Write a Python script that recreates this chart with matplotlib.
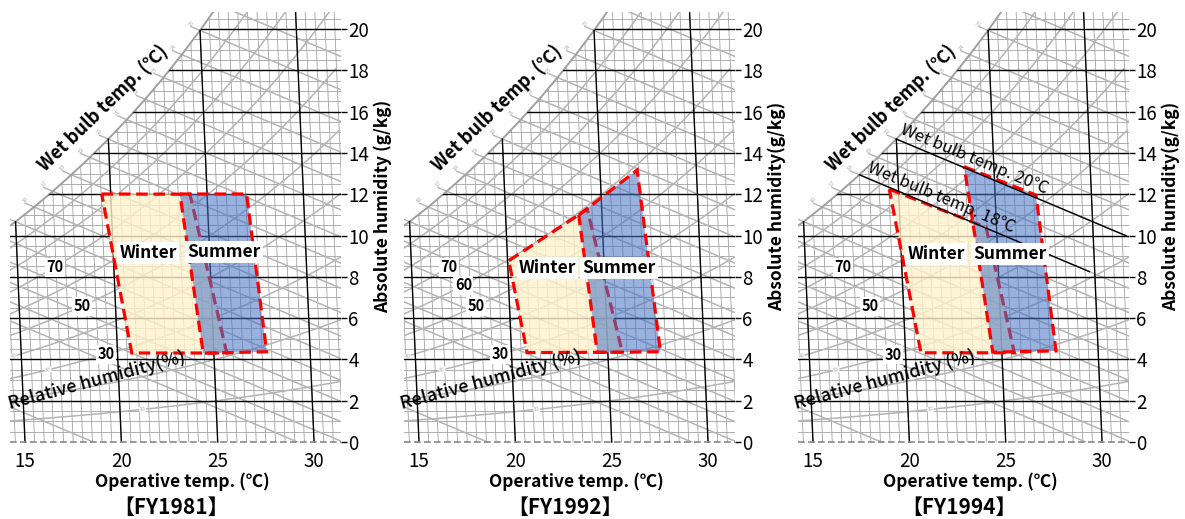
import numpy as np
import matplotlib
matplotlib.use("Agg")
import matplotlib.pyplot as plt
from matplotlib.patches import Polygon

plt.rcParams['font.family'] = ['Noto Sans CJK JP', 'DejaVu Sans']

W, H = 1185, 519

# saturation absolute humidity (g/kg) against dry bulb temp (degC)
sat_temp = list(range(0, 33))
sat_hum = [3.77, 4.06, 4.37, 4.70, 5.05, 5.42, 5.82, 6.24, 6.69, 7.16,
           7.66, 8.20, 8.76, 9.36, 10.00, 10.67, 11.38, 12.14, 12.94, 13.78,
           14.67, 15.61, 16.60, 17.65, 18.76, 19.93, 21.17, 22.47, 23.85, 25.31,
           26.85, 28.47, 30.19]
rh_levels = [10, 20, 30, 40, 50, 60, 70, 80, 90]
wb_temps = [5, 10, 11, 12, 13, 14, 15, 16, 17, 18, 19, 20, 21, 22, 23, 24, 25, 26]
wb_tiny_labels = list(range(15, 26))
x_ticks = [15, 20, 25, 30]
y_ticks = [0, 2, 4, 6, 8, 10, 12, 14, 16, 18, 20]

SKEW = 0.046      # dry bulb lines lean left going up
WB_SLOPE = 0.40   # g/kg per degC along a wet bulb line

years = ["FY1981", "FY1992", "FY1994"]
winter_x = [[18.98, 23.56, 25.47, 20.54],
            [19.66, 23.73, 25.55, 20.61],
            [18.96, 23.98, 25.45, 20.60]]
winter_y = [[12.01, 12.00, 4.31, 4.31],
            [8.78, 11.27, 4.35, 4.33],
            [12.24, 10.40, 4.32, 4.32]]
summer_x = [[23.04, 26.50, 27.54, 24.25],
            [23.29, 26.32, 27.53, 24.25],
            [22.85, 26.57, 27.61, 24.33]]
summer_y = [[12.01, 12.01, 4.37, 4.30],
            [10.99, 13.17, 4.37, 4.34],
            [13.33, 11.96, 4.41, 4.35]]

# bold RH labels (value, dry bulb position) per panel
rh_marks = [[(70, 16.56), (50, 17.96), (30, 19.20)],
            [(70, 16.56), (60, 17.30), (50, 17.96), (30, 19.20)],
            [(70, 16.56), (50, 17.96), (30, 19.15)]]
rh_tiny = [(40, 14.40), (30, 16.20), (10, 21.10)]

# FY1994 wet bulb reference lines
wb_ref_temps = [18, 20]
wb_ref_end = [29.34, 31.24]

abs_labels = ["Absolute humidity (g/kg)", "Absolute humidity(g/kg)", "Absolute humidity(g/kg)"]
rel_labels = ["Relative humidity(%)", "Relative humidity (%)", "Relative humidity (%)"]

offsets = [0, 394, 788]
XL, XR, YB, YT = 14.22, 31.42, -0.08, 20.82
PXX, PXY = 19.27, 20.65

sat_t = np.array(sat_temp, float)
sat_w = np.array(sat_hum)
sat_x = sat_t - SKEW * sat_w

GRID = '#a2a2a2'
CURVE = '#b4b4b4'

fig = plt.figure(figsize=(W / 100, H / 100), dpi=100)


def ftext(px, py, s, **kw):
    fig.text(px / W, 1 - py / H, s, **kw)


for i, off in enumerate(offsets):
    x0 = off + 25
    left = x0 + PXX * (XL - 15)
    bottom = 442 - PXY * YB
    ax = fig.add_axes([left / W, 1 - bottom / H,
                       PXX * (XR - XL) / W, PXY * (YT - YB) / H])
    ax.set_xlim(XL, XR)
    ax.set_ylim(YB, YT)
    for sp in ax.spines.values():
        sp.set_visible(False)

    clip = Polygon(list(zip(sat_x, sat_w)) + [(40, sat_w[-1]), (40, -0.02), (sat_x[0], -0.02)],
                   closed=True, transform=ax.transData)

    def clipped(xs, ys, **kw):
        ln, = ax.plot(xs, ys, **kw)
        ln.set_clip_path(clip)
        return ln

    # fine grid
    for t in np.arange(10, 33, 0.5):
        clipped([t, t - SKEW * 21], [0, 21], color=GRID, lw=0.6, zorder=1)
    for w in np.arange(0.5, 21, 0.5):
        clipped([0, 40], [w, w], color=GRID, lw=0.6, zorder=1)

    # relative humidity curves
    rh_curves = {}
    for rh in rh_levels:
        ww = rh / 100 * sat_w
        xx = sat_t - SKEW * ww
        rh_curves[rh] = (xx, ww)
        clipped(xx, ww, color=CURVE, lw=1.1, zorder=1.5)

    # wet bulb lines
    for twb in wb_temps:
        w0 = sat_hum[twb]
        t_end = twb + w0 / WB_SLOPE
        clipped([twb - SKEW * w0, t_end], [w0, 0], color=CURVE, lw=1.1, zorder=1.5)
    for twb in wb_tiny_labels:
        w0 = sat_hum[twb]
        xs0 = twb - SKEW * w0
        ax.plot([xs0, xs0 - 0.45], [w0, w0 + 0.18], color=CURVE, lw=1.0, zorder=1.5)
        ax.text(xs0 - 0.45, w0 + 0.35, str(twb), fontsize=4, color='#aaaaaa',
                rotation=50, ha='center', va='center', clip_on=True, zorder=2)

    ax.plot(sat_x, sat_w, color='#a0a0a0', lw=1.4, zorder=2)

    # major lines
    for t in x_ticks:
        wt = min(sat_hum[t], 21.5)
        ax.plot([t, t - SKEW * wt], [0, wt], color='black', lw=1.0, zorder=2.5)
    for w in y_ticks[1:]:
        clipped([0, 40], [w, w], color='black', lw=1.0, zorder=2.5)
    ax.plot([XL, XR], [0, 0], color='#888888', lw=1.2, ls=(0, (4, 2)), zorder=2.5,
            clip_on=False)

    # tiny RH labels
    for rh, xp in rh_tiny:
        xx, ww = rh_curves[rh]
        ax.text(xp, np.interp(xp, xx, ww), str(rh), fontsize=4, color='#aaaaaa',
                ha='center', va='center', rotation=8, zorder=2,
                bbox=dict(fc='white', ec='none', pad=0.2))

    # comfort zones
    wxy = list(zip(winter_x[i], winter_y[i]))
    sxy = list(zip(summer_x[i], summer_y[i]))
    ax.add_patch(Polygon(wxy, closed=True, fc='#FFF2CC', ec='none', alpha=0.8, zorder=3))
    ax.add_patch(Polygon(wxy, closed=True, fill=False, ec='#FF0000', lw=2.3,
                         ls=(0, (3.6, 1.8)), zorder=4))
    ax.add_patch(Polygon(sxy, closed=True, fc='#4472C4', ec='none', alpha=0.55, zorder=5))
    ax.add_patch(Polygon(sxy, closed=True, fill=False, ec='#FF0000', lw=2.3,
                         ls=(0, (3.6, 1.8)), zorder=6))

    if i == 2:
        for twb, t_end, lab_xy, rot in zip(wb_ref_temps, wb_ref_end,
                                           [(21.64, 11.82), (23.35, 13.70)],
                                           [-22.8, -22.5]):
            w0 = sat_hum[twb]
            xs0 = twb - SKEW * w0
            y_end = w0 - WB_SLOPE / (1 + SKEW * WB_SLOPE) * (t_end - xs0)
            ax.plot([xs0, t_end], [w0, y_end], color='black', lw=1.0, zorder=7)
            ax.text(lab_xy[0], lab_xy[1], f"Wet bulb temp. {twb}℃", fontsize=12,
                    rotation=rot, ha='center', va='center', zorder=9)

    # RH bold labels
    for rh, xp in rh_marks[i]:
        xx, ww = rh_curves[rh]
        ax.text(xp, np.interp(xp, xx, ww), str(rh), fontsize=10.5, fontweight='bold',
                ha='center', va='center', zorder=8,
                bbox=dict(fc='white', ec='none', pad=1.0))

    # season labels
    wl = [(21.38, 9.15), (21.67, 8.43), (21.38, 9.10)][i]
    sl = [(25.33, 9.20), (25.38, 8.43), (25.22, 9.10)][i]
    for (lx, ly), s in [(wl, 'Winter'), (sl, 'Summer')]:
        ax.text(lx, ly, s, fontsize=12.5, fontweight='bold', ha='center', va='center',
                zorder=10, bbox=dict(fc='white', ec='none', pad=1.5))

    # axes ticks
    ax.yaxis.tick_right()
    ax.set_yticks(y_ticks)
    ax.set_xticks(x_ticks)
    ax.tick_params(axis='y', length=4, width=1.0, pad=1, labelsize=13.5)
    ax.tick_params(axis='x', length=0, pad=5, labelsize=13.5)

    # outside / overlay text
    ftext(off + 103, 108, "Wet bulb temp. (℃)", fontsize=13, fontweight='bold',
          rotation=44, ha='center', va='center')
    ftext(off + 97, 380, rel_labels[i], fontsize=13, rotation=15,
          ha='center', va='center', fontweight='medium')
    ftext(off + 383, 206, abs_labels[i], fontsize=12.5, fontweight='bold',
          rotation=90, ha='center', va='center')
    ftext(off + 182, 487, "Operative temp. (℃)", fontsize=12.5, fontweight='bold',
          ha='center', va='baseline')
    ftext(off + 171, 514, f"【{years[i]}】", fontsize=15, fontweight='bold',
          ha='center', va='baseline')

fig.savefig("out.png", dpi=100)
